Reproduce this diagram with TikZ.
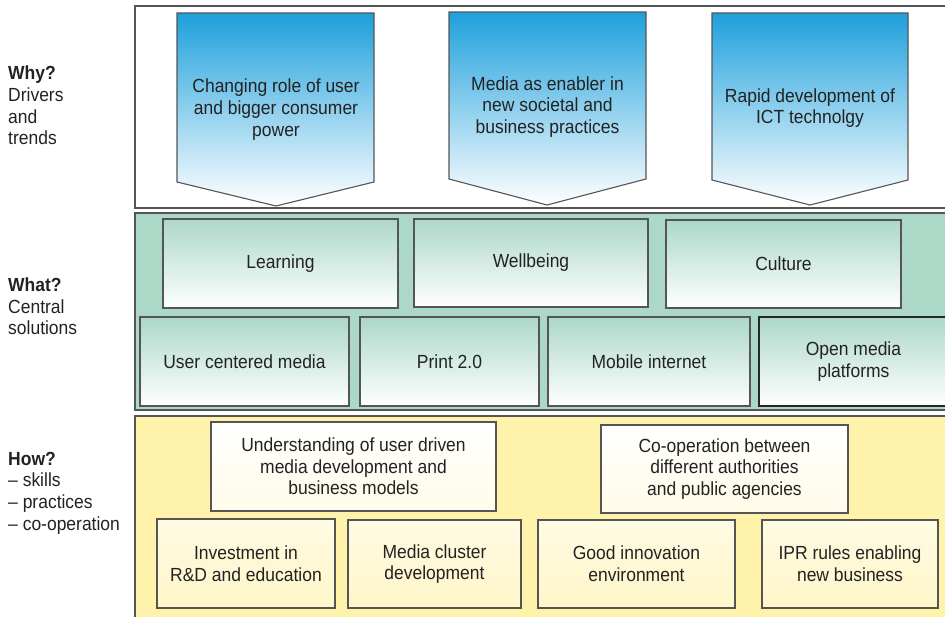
\documentclass[tikz,border=0pt]{standalone}
\usepackage{fontspec}
\setmainfont{Liberation Sans}[FakeStretch=0.92]
\definecolor{chevblue}{RGB}{30,160,220}
\definecolor{bandgreen}{RGB}{172,216,200}
\definecolor{bandyellow}{RGB}{255,242,170}
\definecolor{paleyellow}{RGB}{255,246,200}
\definecolor{inkgray}{RGB}{34,34,34}
\definecolor{framegray}{RGB}{85,85,85}
\begin{document}
\begin{tikzpicture}[
        x=1pt, y=-1pt,
        every node/.style={font=\fontsize{19}{21.7}\selectfont, text=inkgray, align=center},
        band/.style={draw=framegray, line width=1.1pt},
        chevron/.style={draw=framegray, line width=1.1pt, top color=chevblue, bottom color=white},
        greenbox/.style={draw=framegray, line width=1.1pt, top color=bandgreen, bottom color=white,
            inner sep=0pt, minimum height=89pt},
        whitebox/.style={draw=framegray, line width=1.1pt, top color=white, bottom color=white!60!paleyellow,
            inner sep=0pt, minimum height=89pt},
        yellowbox/.style={draw=framegray, line width=1.1pt, top color=white!50!paleyellow, bottom color=paleyellow,
            inner sep=0pt, minimum height=89pt},
        sidelabel/.style={anchor=west, align=left, inner sep=0pt}
    ]
        \useasboundingbox (0,0) rectangle (945,616);

        % Die drei Bänder
        \path[band, fill=white] (135,6) rectangle (952,208);
        \path[band, fill=bandgreen] (135,213) rectangle (952,410);
        \path[band, fill=bandyellow] (135,416) rectangle (952,622);

        % Treiber als Pfeile
        \path[chevron] (177,13) -- (374,13) -- (374,182) -- (276,206) -- (177,182) -- cycle;
        \path[chevron] (449,12) -- (646,12) -- (646,179) -- (547,205) -- (449,179) -- cycle;
        \path[chevron] (712,13) -- (908,13) -- (908,180) -- (810,205) -- (712,180) -- cycle;
        \node (user) at (276,109.5) {Changing role of user\\and bigger consumer\\power};
        \node (enabler) at (547.5,107) {Media as enabler in\\new societal and\\business practices};
        \node (ict) at (810,108) {Rapid development of\\ICT technolgy};

        % Zentrale Lösungen
        \node[greenbox, minimum width=235pt] (learning) at (280.5,263.5) {Learning};
        \node[greenbox, minimum width=234pt, minimum height=88pt] (wellbeing) at (531,263) {Wellbeing};
        \node[greenbox, minimum width=235pt, minimum height=88pt] (culture) at (783.5,264) {Culture};
        \node[greenbox, minimum width=209pt] (usermedia) at (244.5,361.5) {User centered media};
        \node[greenbox, minimum width=179pt] (print) at (449.5,361.5) {Print 2.0};
        \node[greenbox, minimum width=202pt] (mobile) at (649,361.5) {Mobile internet};
        \node[greenbox, minimum width=189pt, line width=2pt, draw=black!85] (openmedia) at (853.5,361.5) {Open media\\platforms};

        % Fähigkeiten, Praktiken, Zusammenarbeit
        \node[whitebox, minimum width=285pt] (understanding) at (353.5,466.5) {Understanding of user driven\\media development and\\business models};
        \node[whitebox, minimum width=247pt, minimum height=88pt] (cooperation) at (724.5,469) {Co-operation between\\different authorities\\and public agencies};
        \node[yellowbox, minimum width=178pt] (investment) at (246,563.5) {Investment in\\R\&D and education};
        \node[yellowbox, minimum width=173pt, minimum height=88pt] (cluster) at (434.5,564) {Media cluster\\development};
        \node[yellowbox, minimum width=197pt, minimum height=88pt] (innovation) at (636.5,564) {Good innovation\\environment};
        \node[yellowbox, minimum width=176pt, minimum height=88pt] (ipr) at (850,564) {IPR rules enabling\\new business};

        % Beschriftung links
        \node[sidelabel] (why) at (8,105.5) {\textbf{Why?}\\Drivers\\and\\trends};
        \node[sidelabel] (what) at (8,306.5) {\textbf{What?}\\Central\\solutions};
        \node[sidelabel] (how) at (8,493) {\textbf{How?}\\-- skills\\-- practices\\-- co-operation};
    \end{tikzpicture}
\end{document}
